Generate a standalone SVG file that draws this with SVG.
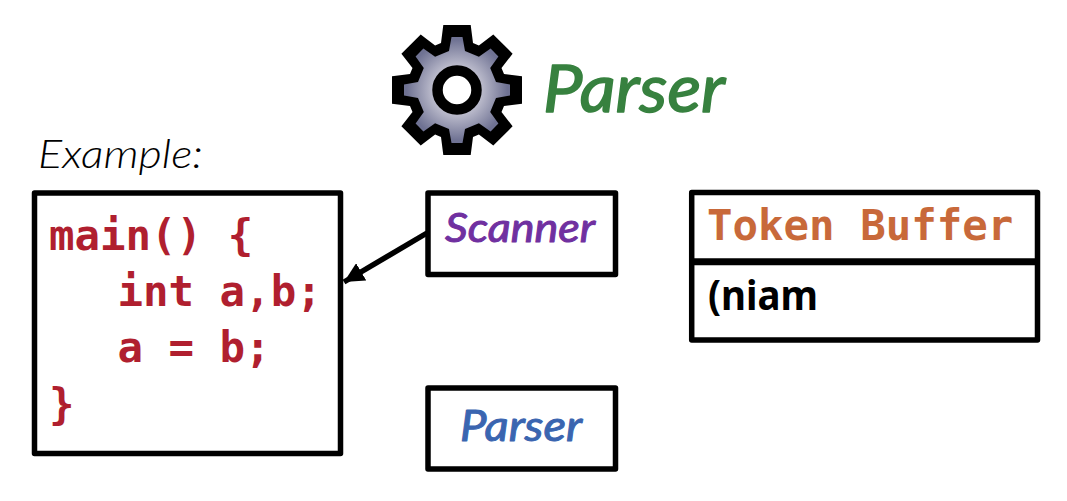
<svg xmlns="http://www.w3.org/2000/svg" width="1067" height="501" viewBox="0 0 1067 501">
<style>
.box{fill:#fff;stroke:#000;stroke-width:5.5;stroke-linejoin:round}
.code{font-family:"DejaVu Sans Mono","Liberation Mono",monospace;font-weight:700;font-size:42.4px;fill:#b01f2f}
.hand{font-family:Lato,"Noto Sans",sans-serif;font-style:italic;stroke-linejoin:round;paint-order:stroke}
</style>
<defs>
<radialGradient id="gearFill" gradientUnits="userSpaceOnUse" cx="0" cy="0" r="53">
<stop offset="0.45" stop-color="#bdbdcd"/><stop offset="0.95" stop-color="#6f7293"/>
</radialGradient>
<marker id="head" viewBox="0 0 10 10" refX="10" refY="5" markerUnits="userSpaceOnUse" markerWidth="20" markerHeight="20" orient="auto"><path d="M0 0L10 5L0 10Z" fill="#000"/></marker>
</defs>
<g id="gear" transform="translate(457 90)">
<path fill="#000" d="M-16-47L-13.7-65L13.7-65L16-47L21.9-44.5L36.3-55.6L55.6-36.3L44.5-21.9L47-16L65-13.7L65 13.7L47 16L44.5 21.9L55.6 36.3L36.3 55.6L21.9 44.5L16 47L13.7 65L-13.7 65L-16 47L-21.9 44.5L-36.3 55.6L-55.6 36.3L-44.5 21.9L-47 16L-65 13.7L-65-13.7L-47-16L-44.5-21.9L-55.6-36.3L-36.3-55.6L-21.9-44.5Z"/>
<path fill="url(#gearFill)" d="M-8-39L-5.5-53L5.5-53L8-39L21.9-33.2L33.6-41.4L41.4-33.6L33.2-21.9L39-8L53-5.5L53 5.5L39 8L33.2 21.9L41.4 33.6L33.6 41.4L21.9 33.2L8 39L5.5 53L-5.5 53L-8 39L-21.9 33.2L-33.6 41.4L-41.4 33.6L-33.2 21.9L-39 8L-53 5.5L-53-5.5L-39-8L-33.2-21.9L-41.4-33.6L-33.6-41.4L-21.9-33.2Z"/>
<circle r="19.5" fill="#fff" stroke="#000" stroke-width="10.5"/>
</g>
<g id="title"><text class="hand" x="543" y="112" font-size="66" fill="#37813f" stroke="#37813f" stroke-width="1.5" textLength="182" lengthAdjust="spacingAndGlyphs">Parser</text></g>
<g id="example-label"><text class="hand" x="38" y="168" font-size="40" font-weight="300" fill="#000" textLength="165" lengthAdjust="spacingAndGlyphs">Example:</text></g>
<g id="code">
<rect class="box" x="34.5" y="193" width="306" height="260.5"/>
<text class="code" x="49" y="250">main() {</text>
<text class="code" x="117.500" y="306">int a,b;</text>
<text class="code" x="117.500" y="362">a = b;</text>
<text class="code" x="49" y="419">}</text>
</g>
<g id="scanner">
<rect class="box" x="428" y="193" width="187.5" height="81.5"/>
<text class="hand" x="445" y="242" font-size="40" fill="#7030a0" stroke="#7030a0" stroke-width="1" textLength="150" lengthAdjust="spacingAndGlyphs">Scanner</text>
</g>
<g id="parser">
<rect class="box" x="428" y="388" width="187.5" height="81"/>
<text class="hand" x="460" y="441" font-size="42" fill="#3a65b0" stroke="#3a65b0" stroke-width="1" textLength="122" lengthAdjust="spacingAndGlyphs">Parser</text>
</g>
<g id="token-buffer">
<rect class="box" x="691.7" y="192.5" width="345.8" height="147.5"/>
<path d="M691.7 261.7H1037.5" fill="none" stroke="#000" stroke-width="7"/>
<text class="code" x="707" y="239.5" style="fill:#c8693a">Token Buffer</text>
<text x="708" y="310" font-family="'Noto Sans',sans-serif" font-weight="700" font-size="42" fill="#000" textLength="110" lengthAdjust="spacingAndGlyphs">(niam</text>
</g>
<g id="connectors">
<path d="M427 233L344 282" fill="none" stroke="#000" stroke-width="5.5" marker-end="url(#head)"/>
</g>
</svg>
